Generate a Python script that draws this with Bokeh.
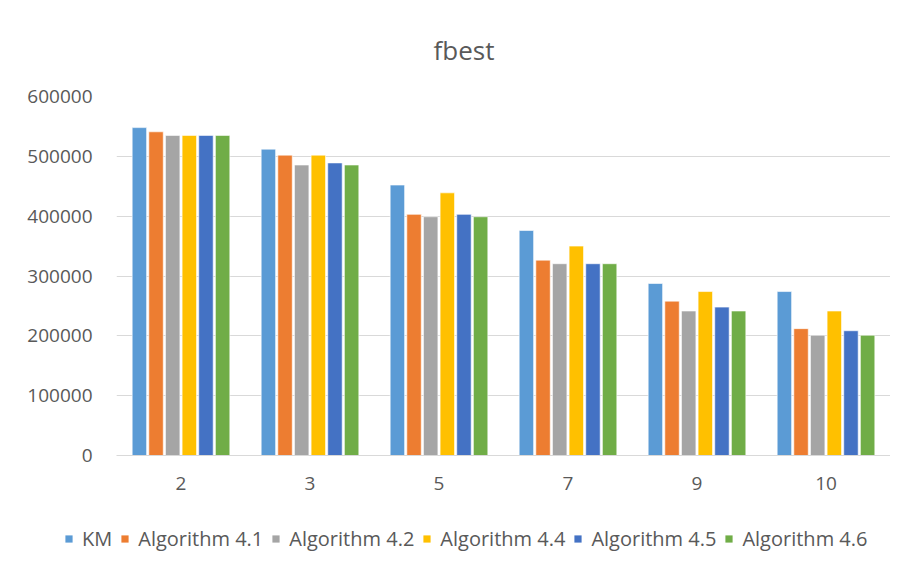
from bokeh.plotting import figure
from bokeh.layouts import column
from bokeh.models import ColumnDataSource, FactorRange, Range1d, Legend, LegendItem, NumeralTickFormatter, FixedTicker
from bokeh.transform import dodge
from bokeh.embed import file_html
from bokeh.resources import INLINE

categories = ["2", "3", "5", "7", "9", "10"]
series_names = ["KM", "Algorithm 4.1", "Algorithm 4.2", "Algorithm 4.4", "Algorithm 4.5", "Algorithm 4.6"]
km      = [548000, 512000, 452000, 376000, 287500, 274000]
alg41   = [541000, 502000, 403000, 326500, 258000, 212000]
alg42   = [535000, 485500, 399000, 320500, 241500, 201000]
alg44   = [535000, 502000, 439000, 350000, 274000, 241500]
alg45   = [535000, 489000, 403000, 320500, 248000, 208500]
alg46   = [535000, 485500, 399000, 320500, 241500, 201000]
colors = ["#5B9BD5", "#ED7D31", "#A5A5A5", "#FFC000", "#4472C4", "#70AD47"]
y_ticks = [0, 100000, 200000, 300000, 400000, 500000, 600000]

series_values = [km, alg41, alg42, alg44, alg45, alg46]
data = {"cat": categories}
keys = ["s%d" % i for i in range(6)]
for k, v in zip(keys, series_values):
    data[k] = v
src = ColumnDataSource(data)

FONT = "Open Sans"
TXT = "#595959"

p = figure(x_range=FactorRange(*categories, range_padding=0), y_range=Range1d(0, 600000),
           frame_width=774, frame_height=359, min_border_left=116, min_border_right=0,
           min_border_top=93, min_border_bottom=60,
           output_backend="svg", toolbar_location=None, title="fbest")

slot = 0.129
offsets = [(i - 2.5) * slot for i in range(6)]
for k, off, c in zip(keys, offsets, colors):
    p.vbar(x=dodge("cat", off, range=p.x_range), top=k, width=0.112, source=src,
           fill_color=c, line_color="white", line_width=0.6)

p.title.text_font = FONT
p.title.text_font_size = "26px"
p.title.text_font_style = "normal"
p.title.text_color = TXT
p.title.align = "left"
p.title.offset = 317
p.title.standoff = 58

p.outline_line_color = None
p.xgrid.grid_line_color = None
p.ygrid.grid_line_color = "#D9D9D9"
p.ygrid.grid_line_width = 1

p.yaxis.ticker = FixedTicker(ticks=y_ticks)
p.yaxis.formatter = NumeralTickFormatter(format="0")
p.yaxis.axis_line_color = None
p.yaxis.major_tick_line_color = None
p.yaxis.minor_tick_line_color = None
p.yaxis.major_tick_out = 0
p.yaxis.major_label_standoff = 24
p.yaxis.major_label_text_font = FONT
p.yaxis.major_label_text_font_size = "19px"
p.yaxis.major_label_text_color = TXT

p.xaxis.axis_line_color = "#D9D9D9"
p.xaxis.major_tick_line_color = None
p.xaxis.minor_tick_line_color = None
p.xaxis.major_tick_out = 0
p.xaxis.major_label_standoff = 21
p.xaxis.major_label_text_font = FONT
p.xaxis.major_label_text_font_size = "19px"
p.xaxis.major_label_text_color = TXT

# legend strip below the chart
p2 = figure(width=890, height=41, min_border=0, x_range=Range1d(0, 1), y_range=Range1d(0, 1),
            x_axis_type=None, y_axis_type=None, output_backend="svg", toolbar_location=None)
p2.frame_align = False
p2.outline_line_color = None
p2.xgrid.visible = False
p2.ygrid.visible = False
leg_renderers = []
for c in colors:
    r = p2.vbar(x=[0.5], top=[0.0], bottom=[0.0], width=0.0, fill_color=c, line_color=None)
    leg_renderers.append(r)

legend = Legend(items=[LegendItem(label=n, renderers=[r]) for n, r in zip(series_names, leg_renderers)],
                orientation="horizontal", location=(64, 4))
legend.label_text_font = FONT
legend.label_text_font_size = "20px"
legend.label_text_color = TXT
legend.glyph_width = 9
legend.glyph_height = 9
legend.label_standoff = 9
legend.spacing = 8
legend.padding = 0
legend.margin = 0
legend.border_line_color = None
legend.background_fill_alpha = 0
p2.add_layout(legend, "center")

layout = column(p, p2, spacing=0)
open("out.html", "w").write(file_html(layout, INLINE))
